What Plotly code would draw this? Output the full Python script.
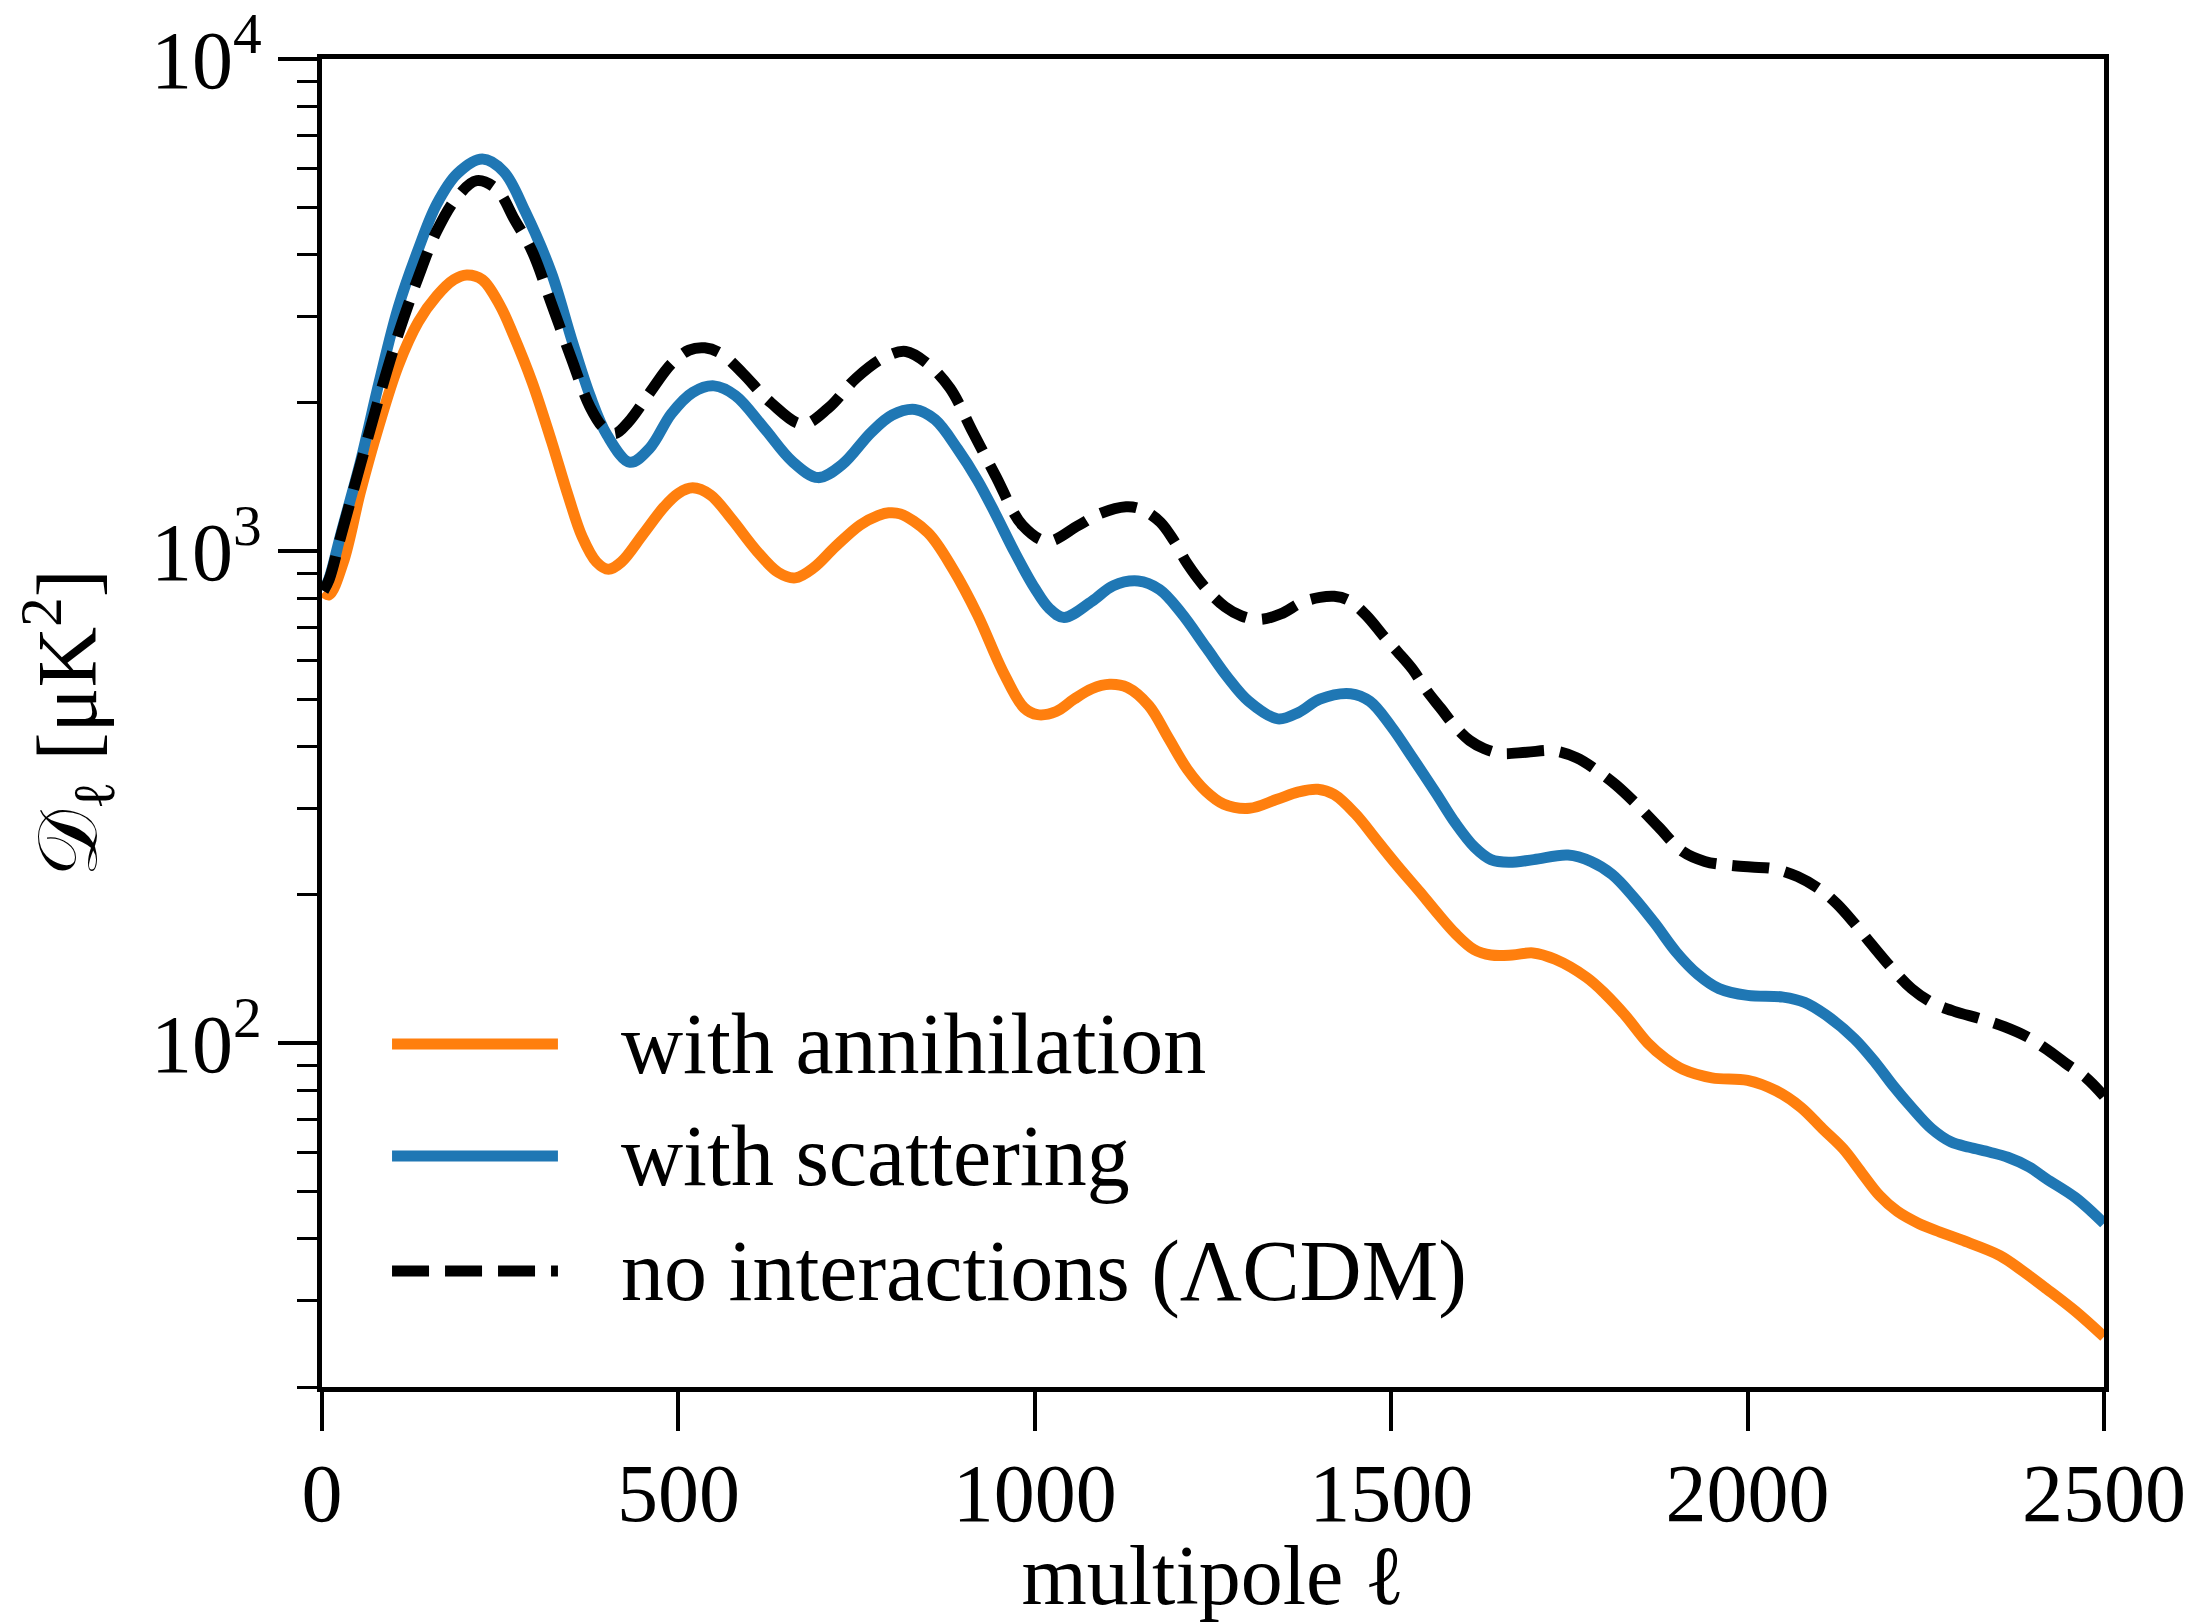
import math
import plotly.graph_objects as go

# CMB temperature power spectra D_ell [muK^2] for three dark-matter scenarios
ell_annihilation = [2, 10, 30, 54, 80, 107, 135, 161, 185, 203, 225, 250, 268, 295, 322, 345, 365,
                    385, 402, 420, 450, 480, 500, 520, 545, 575, 610, 640, 664, 690, 720, 755, 780,
                    795, 811, 850, 885, 920, 955, 985, 1004, 1030, 1055, 1080, 1105, 1130, 1160,
                    1187, 1214, 1240, 1265, 1301, 1340, 1370, 1397, 1420, 1450, 1480, 1509, 1540,
                    1563, 1590, 1616, 1640, 1670, 1699, 1730, 1774, 1800, 1828, 1860, 1885, 1909,
                    1950, 2000, 2040, 2075, 2105, 2134, 2160, 2185, 2210, 2240, 2270, 2300, 2354,
                    2385, 2419, 2460, 2500]
dl_annihilation = [825, 815, 950, 1320, 1800, 2380, 2920, 3300, 3560, 3640, 3560, 3150, 2760, 2200,
                   1671, 1300, 1069, 950, 918, 950, 1080, 1230, 1310, 1344, 1300, 1160, 1000, 905,
                   882, 925, 1020, 1130, 1180, 1196, 1190, 1090, 920, 740, 570, 480, 465, 472, 500,
                   525, 536, 528, 485, 418, 360, 325, 306, 300, 313, 324, 328, 320, 292, 258, 229,
                   203, 185, 167, 155, 151, 151, 152.5, 148, 136, 126, 114, 100, 93, 88.5, 85, 84,
                   80, 74, 67, 61, 54.5, 49, 45.5, 43, 41.3, 39.8, 37, 34.5, 31.7, 28.5, 25.3]

ell_scattering = [2, 10, 27, 54, 80, 107, 135, 161, 190, 225, 255, 285, 322, 350, 376, 400, 432,
                  460, 490, 520, 550, 580, 620, 660, 696, 730, 770, 800, 832, 860, 892, 920, 945,
                  972, 1000, 1020, 1041, 1080, 1110, 1145, 1175, 1205, 1241, 1270, 1300, 1341,
                  1370, 1400, 1443, 1470, 1500, 1530, 1563, 1590, 1617, 1640, 1665, 1700, 1748,
                  1780, 1810, 1840, 1870, 1900, 1930, 1960, 2000, 2050, 2080, 2110, 2150, 2180,
                  2204, 2230, 2258, 2285, 2311, 2340, 2365, 2395, 2419, 2460, 2500]
dl_scattering = [830, 880, 1090, 1520, 2200, 3130, 4100, 5070, 5850, 6260, 5900, 4900, 3670, 2700,
                 2070, 1720, 1515, 1620, 1900, 2100, 2166, 2070, 1780, 1520, 1410, 1500, 1740,
                 1890, 1940, 1850, 1610, 1390, 1188, 993, 840, 765, 733, 790, 850, 869, 835, 750,
                 635, 555, 495, 456, 470, 500, 513, 495, 440, 380, 322, 280, 250, 236, 233, 236,
                 241, 234, 220, 198, 175, 153, 138, 129, 125, 124, 121, 114, 102, 91, 82, 74, 67,
                 63, 61.4, 60, 58.6, 56, 53, 48.5, 43]

ell_lcdm = [2, 10, 27, 54, 80, 107, 135, 161, 190, 217, 245, 270, 295, 322, 349, 376, 395, 411,
            430, 460, 490, 515, 537, 560, 590, 630, 674, 710, 750, 790, 819, 850, 881, 913, 945,
            983, 1018, 1061, 1090, 1128, 1150, 1176, 1195, 1214, 1240, 1267, 1290, 1316, 1345,
            1375, 1400, 1420, 1440, 1465, 1490, 1509, 1530, 1550, 1570, 1589, 1610, 1630, 1653,
            1690, 1726, 1760, 1790, 1815, 1844, 1875, 1909, 1940, 1973, 2005, 2037, 2070, 2102,
            2125, 2150, 2175, 2204, 2230, 2258, 2290, 2327, 2360, 2392, 2420, 2446, 2475, 2500]
dl_lcdm = [830, 875, 1080, 1500, 2050, 2760, 3600, 4470, 5250, 5660, 5440, 4720, 4060, 3180, 2480,
           1963, 1780, 1733, 1830, 2100, 2400, 2560, 2588, 2520, 2300, 2000, 1811, 1950, 2250,
           2480, 2545, 2400, 2143, 1746, 1422, 1127, 1047, 1127, 1189, 1230, 1215, 1145, 1050,
           942, 840, 770, 738, 726, 745, 787, 805, 809, 795, 740, 670, 624, 575, 520, 478, 441,
           412, 397, 388, 390, 393, 380, 357, 335, 306, 275, 245, 234, 230, 228, 226, 218, 205,
           192, 175, 158, 141, 129, 121, 116, 112, 108, 103, 97, 91, 85, 78]

series_names = ["with annihilation", "with scattering", "no interactions (ΛCDM)"]
series_colors = ["#ff7f0e", "#1f77b4", "black"]
series_dash = ["solid", "solid", "37px,16px"]

x_ticks = [0, 500, 1000, 1500, 2000, 2500]
y_major = [100, 1000, 10000]
y_major_text = ["10<sup>2</sup>", "10<sup>3</sup>", "10<sup>4</sup>"]
y_minor = [m * d for d in (10, 100, 1000) for m in range(2, 10)]

FONT = "Liberation Serif"
LW = 11

fig = go.Figure()
for xs, ys, name, color, dash in zip(
    [ell_annihilation, ell_scattering, ell_lcdm],
    [dl_annihilation, dl_scattering, dl_lcdm],
    series_names, series_colors, series_dash,
):
    fig.add_trace(go.Scatter(
        x=xs, y=ys, mode="lines", name=name,
        line=dict(color=color, width=LW, dash=dash, shape="spline", smoothing=1.0),
        showlegend=False,
    ))

# Frameless legend drawn in paper coordinates (long line samples)
legend_rows = [0.2583, 0.1739, 0.0873]
for row_y, name, color, dash in zip(legend_rows, series_names, series_colors, series_dash):
    fig.add_shape(type="line", xref="paper", yref="paper",
                  x0=0.0393, x1=0.1324, y0=row_y, y1=row_y,
                  line=dict(color=color, width=LW, dash=dash))
    fig.add_annotation(xref="paper", yref="paper", x=0.1665, y=row_y,
                       xanchor="left", yanchor="middle", showarrow=False,
                       text=name, font=dict(family=FONT, size=86, color="black"))

axis_common = dict(
    showline=True, linewidth=5, linecolor="black", mirror=True,
    ticks="outside", ticklen=39, tickwidth=4, tickcolor="black",
    showgrid=False, zeroline=False, automargin=False,
    tickfont=dict(family=FONT, size=82, color="black"),
)

fig.update_layout(
    width=2197, height=1622,
    margin=dict(l=322, r=93, t=59, b=235),
    paper_bgcolor="white", plot_bgcolor="white",
    font=dict(family=FONT, color="black"),
    xaxis=dict(
        range=[0, 2500], tickmode="array", tickvals=x_ticks, ticklabelstandoff=-8,
        title=dict(text="multipole ℓ", font=dict(family=FONT, size=84), standoff=24),
        **axis_common,
    ),
    yaxis=dict(
        type="log", range=[math.log10(20), 4],
        tickmode="array", tickvals=y_major, ticktext=y_major_text,
        minor=dict(tickmode="array", tickvals=y_minor, ticks="outside",
                   ticklen=20, tickwidth=3, tickcolor="black", showgrid=False),
        title=dict(text="𝒟<sub>ℓ</sub> [μK<sup>2</sup>]", font=dict(family=FONT, size=84),
                   standoff=28),
        **axis_common,
    ),
)

fig.write_html("out.html")
